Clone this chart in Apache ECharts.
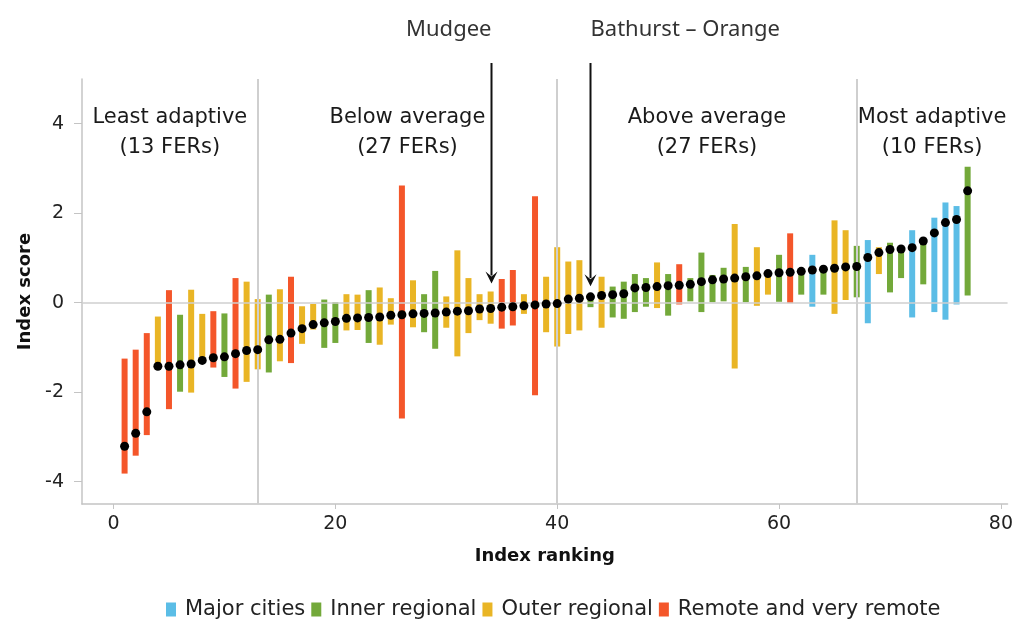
<!DOCTYPE html>
<html>
<head>
<meta charset="utf-8">
<script src="https://cdn.jsdelivr.net/npm/echarts@6/dist/echarts.min.js"></script>
<style>
html,body{margin:0;padding:0;background:#fff;}
#main{width:1016px;height:621px;}
</style>
</head>
<body>
<div id="main"></div>
<script>
// Category per index rank (1..77): M = Major cities, I = Inner regional, O = Outer regional, R = Remote and very remote
const categoryCodes = ['R','R','R','O','R','I','O','O','R','I','R','O','O','I','O','R','O','O','I','I',
  'O','O','I','O','O','R','O','I','I','O','O','O','O','O','R','R','O','R','O','O',
  'O','O','I','O','I','I','I','I','O','I','R','I','I','I','I','O','I','O','O','I',
  'R','I','M','I','O','O','I','M','O','I','I','M','I','M','M','M','I'];
// Lower end of each range bar
const lowValues = [-3.82,-3.42,-2.96,-1.50,-2.38,-1.99,-2.01,-1.30,-1.45,-1.66,-1.92,-1.77,-1.49,-1.56,-1.31,-1.35,-0.92,-0.60,-1.01,-0.90,
  -0.62,-0.61,-0.90,-0.94,-0.49,-2.59,-0.55,-0.66,-1.03,-0.56,-1.20,-0.68,-0.39,-0.47,-0.58,-0.51,-0.25,-2.07,-0.66,-0.98,
  -0.70,-0.62,-0.10,-0.56,-0.33,-0.36,-0.21,-0.09,-0.12,-0.29,-0.04,0.03,-0.21,0.01,0.03,-1.47,0.01,-0.07,0.18,0.02,
  -0.01,0.18,-0.09,0.18,-0.25,0.06,0.12,-0.46,0.64,0.23,0.55,-0.33,0.41,-0.21,-0.38,-0.04,0.16];
// Upper end of each range bar
const highValues = [-1.25,-1.05,-0.68,-0.31,0.28,-0.27,0.29,-0.25,-0.19,-0.24,0.55,0.47,0.08,0.18,0.30,0.58,-0.08,-0.03,0.07,0.01,
  0.19,0.18,0.28,0.34,0.10,2.62,0.50,0.19,0.71,0.14,1.17,0.55,0.19,0.25,0.53,0.73,0.19,2.38,0.58,1.24,
  0.92,0.95,0.19,0.58,0.36,0.47,0.64,0.55,0.90,0.64,0.86,0.55,1.12,0.62,0.78,1.76,0.80,1.24,0.67,1.07,
  1.55,0.64,1.07,0.78,1.84,1.62,1.27,1.40,1.24,1.34,1.22,1.62,1.39,1.90,2.24,2.16,3.04];
// Index score (black dots)
const scoreValues = [-3.21,-2.92,-2.44,-1.42,-1.42,-1.39,-1.37,-1.29,-1.23,-1.21,-1.14,-1.07,-1.05,-0.83,-0.82,-0.68,-0.58,-0.49,-0.45,-0.42,
  -0.35,-0.34,-0.33,-0.32,-0.28,-0.27,-0.25,-0.24,-0.23,-0.21,-0.19,-0.18,-0.14,-0.13,-0.10,-0.09,-0.07,-0.05,-0.03,-0.02,
  0.08,0.10,0.13,0.16,0.18,0.20,0.33,0.34,0.36,0.38,0.39,0.41,0.47,0.51,0.53,0.55,0.58,0.60,0.65,0.67,
  0.68,0.70,0.73,0.75,0.77,0.80,0.81,1.01,1.12,1.19,1.20,1.23,1.38,1.56,1.79,1.86,2.50];

const categoryNames = {M:'Major cities', I:'Inner regional', O:'Outer regional', R:'Remote and very remote'};
const categoryOrder = ['M','I','O','R'];
const categoryColors = {M:'#5bbde6', I:'#73a93a', O:'#e9b525', R:'#f4562a'};

const xTicks = [0,20,40,60,80];
const yTicks = [-4,-2,0,2,4];
const groupBreaks = [13,40,67];
const groupLabels = ['Least adaptive\n(13 FERs)','Below average\n(27 FERs)','Above average\n(27 FERs)','Most adaptive\n(10 FERs)'];
const callouts = [{name:'Mudgee', rank:34, side:'right'}, {name:'Bathurst \u2013 Orange', rank:43, side:'left'}];

const X_MIN = -2.84, X_MAX = 80.6, Y_MIN = -4.5, Y_MAX = 5;

const chart = echarts.init(document.getElementById('main'), null, {renderer:'canvas'});

const barSeries = categoryOrder.map(code => {
  const data = [];
  categoryCodes.forEach((c, i) => { if (c === code) data.push([i + 1, lowValues[i], highValues[i]]); });
  return {
    name: categoryNames[code],
    type: 'custom',
    itemStyle: {color: categoryColors[code]},
    encode: {x: 0, y: [1, 2]},
    data: data,
    z: 2,
    renderItem: function (params, api) {
      const x = api.value(0);
      const top = api.coord([x, api.value(2)]);
      const bot = api.coord([x, api.value(1)]);
      return {
        type: 'rect',
        shape: {x: top[0] - 3, y: top[1], width: 6, height: bot[1] - top[1]},
        style: {fill: categoryColors[code]}
      };
    }
  };
});

const lineStyleGray = {color:'#cfcfcf', width:2, type:'solid'};

const option = {
  animation: false,
  backgroundColor: '#ffffff',
  grid: {left: 82, right: 8, top: 79, bottom: 117, containLabel: false},
  xAxis: {
    type: 'value', min: X_MIN, max: X_MAX,
    name: 'Index ranking', nameLocation: 'middle', nameGap: 43,
    nameTextStyle: {fontFamily: 'DejaVu Sans', fontWeight: 'bold', fontSize: 18, color: '#111'},
    axisLine: {show: true, onZero: false, lineStyle: {color: '#c4c4c4', width: 1.5}},
    axisTick: {show: true, customValues: xTicks, length: 5, lineStyle: {color: '#c4c4c4'}},
    axisLabel: {customValues: xTicks, margin: 11, fontFamily: 'DejaVu Sans', fontSize: 19, color: '#222'},
    splitLine: {show: false}
  },
  yAxis: {
    type: 'value', min: Y_MIN, max: Y_MAX,
    name: 'Index score', nameLocation: 'middle', nameGap: 48,
    nameTextStyle: {fontFamily: 'DejaVu Sans', fontWeight: 'bold', fontSize: 18, color: '#111'},
    axisLine: {show: true, onZero: false, lineStyle: {color: '#c4c4c4', width: 1.5}},
    axisTick: {show: true, customValues: yTicks, length: 8, lineStyle: {color: '#c4c4c4'}},
    axisLabel: {customValues: yTicks, margin: 18, fontFamily: 'DejaVu Sans', fontSize: 19, color: '#222'},
    splitLine: {show: false}
  },
  legend: {
    data: categoryOrder.map(c => categoryNames[c]),
    left: 161, top: 594,
    icon: 'rect', itemWidth: 10, itemHeight: 14, itemGap: 6,
    selectedMode: false,
    textStyle: {fontFamily: 'DejaVu Sans', fontSize: 21, color: '#222', padding: [0, 0, 0, 4]}
  },
  series: [
    {
      name: 'refLines', type: 'scatter', data: [], silent: true,
      markLine: {
        silent: true, symbol: ['none','none'], label: {show: false},
        lineStyle: lineStyleGray,
        data: groupBreaks.map(v => ({xAxis: v})).concat([{yAxis: 0, lineStyle: {color:'#cfcfcf', width: 1.5}}])
      },
      z: 1
    }
  ].concat(barSeries).concat([
    {
      name: 'Index score', type: 'scatter',
      data: scoreValues.map((v, i) => [i + 1, v]),
      symbol: 'circle', symbolSize: 9,
      itemStyle: {color: '#000', opacity: 1},
      z: 5
    }
  ])
};

chart.setOption(option);

// Annotation graphics positioned through the chart's own scales
const px = (x, y) => chart.convertToPixel({gridIndex: 0}, [x, y]);
const bounds = [X_MIN].concat(groupBreaks).concat([X_MAX]);
const graphics = [];
groupLabels.forEach((txt, i) => {
  const cx = (bounds[i] + bounds[i + 1]) / 2;
  const p = px(cx, 0);
  graphics.push({
    type: 'text', x: p[0], y: 103, z: 10,
    style: {text: txt, align: 'center', verticalAlign: 'top', fontFamily: 'DejaVu Sans', fontSize: 21, lineHeight: 30, fill: '#1a1a1a'}
  });
});
callouts.forEach(c => {
  const tip = px(c.rank, highValues[c.rank - 1]);
  const x = Math.round(tip[0]) + 0.5;
  const tipY = tip[1] - 8;
  graphics.push({
    type: 'line', z: 10,
    shape: {x1: x, y1: 63, x2: x, y2: tipY - 8},
    style: {stroke: '#111', lineWidth: 2}
  });
  graphics.push({
    type: 'polygon', z: 10,
    shape: {points: [[x - 6, tipY - 12], [x, tipY - 7], [x + 6, tipY - 12], [x, tipY]]},
    style: {fill: '#111'}
  });
  graphics.push({
    type: 'text', z: 10, x: x, y: 30,
    style: {text: c.name, align: c.side, verticalAlign: 'middle', fontFamily: 'Noto Sans', fontSize: 22, fill: '#333'}
  });
});
chart.setOption({graphic: graphics});
</script>
</body>
</html>
